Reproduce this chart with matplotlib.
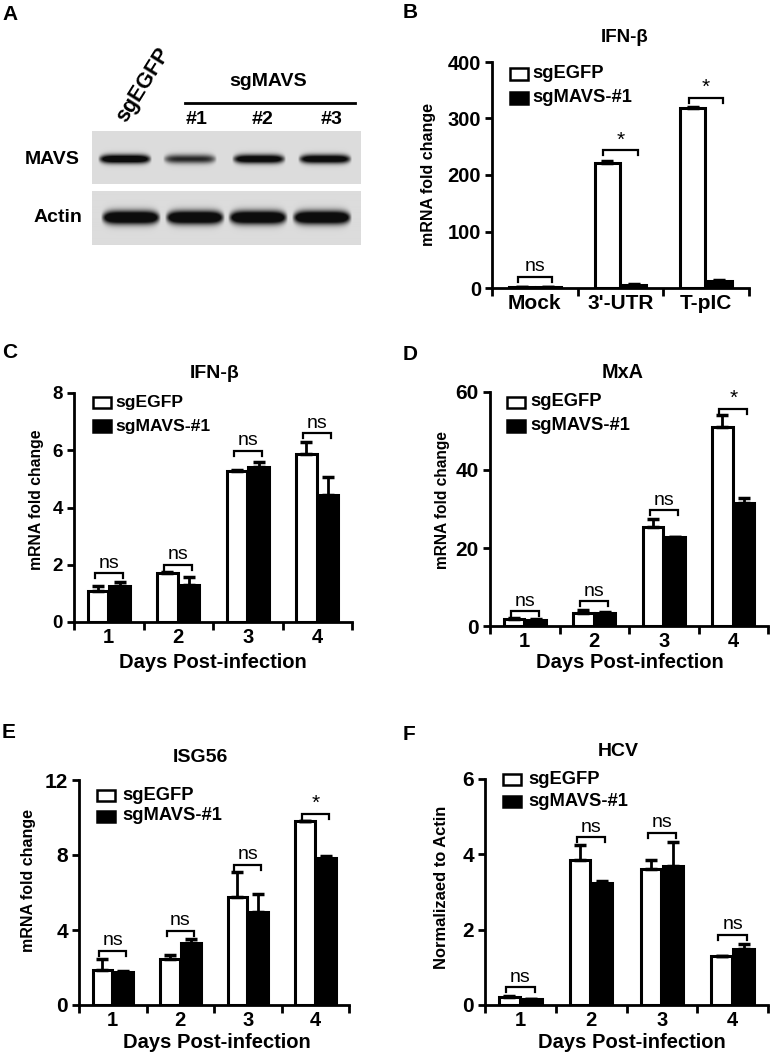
import numpy as np
import matplotlib
matplotlib.use('Agg')
import matplotlib.pyplot as plt
from matplotlib import font_manager
from matplotlib.patches import Rectangle

plt.rcParams['font.family'] = ['Liberation Sans', 'DejaVu Sans']
plt.rcParams['font.weight'] = 'bold'

installed = {f.name for f in font_manager.fontManager.ttflist}
HAS_NARROW = 'Liberation Sans Narrow' in installed
NARROW = 'Liberation Sans Narrow' if HAS_NARROW else 'Liberation Sans'
YL_SCALE = 1 / 0.82 if HAS_NARROW else 1.0

# ---- data ----
series = ['sgEGFP', 'sgMAVS-#1']
days = ['1', '2', '3', '4']

# B: IFN-beta, stimulation
b_groups = ['Mock', "3'-UTR", 'T-pIC']
b_egfp = [2, 222, 318]
b_egfp_err = [0.5, 3, 2]
b_mavs = [2, 6, 13]
b_mavs_err = [0.5, 1, 2]
b_sig = ['ns', '*', '*']
b_bracket = [20, 244, 337]

# C: IFN-beta, days post-infection
c_egfp = [1.10, 1.72, 5.29, 5.86]
c_egfp_err = [0.16, 0.03, 0.02, 0.44]
c_mavs = [1.27, 1.29, 5.41, 4.42]
c_mavs_err = [0.14, 0.27, 0.19, 0.63]
c_sig = ['ns', 'ns', 'ns', 'ns']
c_bracket = [1.7, 2.0, 5.98, 6.6]

# D: MxA
d_egfp = [1.8, 3.4, 25.3, 50.9]
d_egfp_err = [0.3, 0.7, 2.2, 3.2]
d_mavs = [1.5, 3.3, 22.8, 31.5]
d_mavs_err = [0.2, 0.2, 0.1, 1.2]
d_sig = ['ns', 'ns', 'ns', '*']
d_bracket = [3.8, 6.3, 29.7, 55.7]

# E: ISG56
e_egfp = [1.88, 2.45, 5.78, 9.80]
e_egfp_err = [0.57, 0.22, 1.32, 0.03]
e_mavs = [1.76, 3.31, 4.98, 7.84]
e_mavs_err = [0.03, 0.19, 0.92, 0.12]
e_sig = ['ns', 'ns', 'ns', '*']
e_bracket = [2.9, 3.96, 7.48, 10.2]

# F: HCV RNA
f_egfp = [0.22, 3.85, 3.60, 1.29]
f_egfp_err = [0.02, 0.40, 0.25, 0.01]
f_mavs = [0.15, 3.23, 3.70, 1.49]
f_mavs_err = [0.02, 0.07, 0.63, 0.12]
f_sig = ['ns', 'ns', 'ns', 'ns']
f_bracket = [0.47, 4.45, 4.57, 1.87]

# A: western blot band strengths (0..1)
blot_lanes = ['sgEGFP', '#1', '#2', '#3']
mavs_band = [0.85, 0.55, 0.8, 0.8]
actin_band = [1.0, 1.0, 1.0, 1.0]

W, H = 770, 1054
fig = plt.figure(figsize=(W / 100, H / 100), dpi=100)


def box(x0, y_top, x1, y_bot):
    return [x0 / W, 1 - y_bot / H, (x1 - x0) / W, (y_bot - y_top) / H]


def ftext(x, y, s, **kw):
    fig.text(x / W, 1 - y / H, s, **kw)


def ylab(x, y, s, fs):
    ftext(x, y, s, ha='center', va='center', rotation=90, fontsize=fs * YL_SCALE,
          family=NARROW, fontweight='bold')


# ---- panel A: blot ----
def blot(rect, strengths, yc, sy, lane_x, hw):
    ax = fig.add_axes(box(*rect))
    w = rect[2] - rect[0]
    h = rect[3] - rect[1]
    xx, yy = np.meshgrid(np.arange(w) + 0.5, np.arange(h) + 0.5)
    img = np.full((h, w), 0.86)
    for xc, s in zip(lane_x, strengths):
        prof = np.clip(1 - ((xx - (xc - rect[0])) / hw) ** 6, 0, 1)
        img -= 1.3 * s * prof * np.exp(-0.5 * ((yy - yc) / (sy * (0.6 + 0.4 * prof))) ** 2)
    ax.imshow(np.clip(img, 0.05, 1), cmap='gray', vmin=0, vmax=1, aspect='auto',
              interpolation='bilinear')
    ax.set_axis_off()


blot((92, 131, 361, 184), mavs_band, 28, 3.2, [125, 190, 259, 325], 27)
blot((92, 191, 361, 245), actin_band, 27, 4.5, [131, 195, 258, 322], 30)

ftext(80, 159, 'MAVS', ha='right', va='center', fontsize=14)
ftext(82, 218, 'Actin', ha='right', va='center', fontsize=14)
ftext(143, 85, blot_lanes[0], ha='center', va='center', fontsize=15.5, rotation=58)
ftext(268, 82, 'sgMAVS', ha='center', va='center', fontsize=14)
for lx, lab in zip([197, 262, 332], blot_lanes[1:]):
    ftext(lx, 119, lab, ha='center', va='center', fontsize=14)
fig.add_artist(plt.Line2D([185 / W, 355 / W], [1 - 103 / H, 1 - 103 / H],
                          color='black', lw=2))

# ---- bar panels ----
BW = 0.29
OFF = 0.155


def bar_panel(rect, groups, egfp, egfp_err, mavs, mavs_err, sig, bracket,
              ymax, yticks, xmax, xfs, yfs):
    ax = fig.add_axes(box(*rect))
    n = len(groups)
    x = np.arange(1, n + 1)
    ax.bar(x - OFF, egfp, BW, color='white', edgecolor='black', linewidth=2.2, zorder=2)
    ax.bar(x + OFF, mavs, BW, color='black', edgecolor='black', linewidth=2.2, zorder=2)
    ax.errorbar(x - OFF, egfp, yerr=[np.zeros(n), egfp_err], fmt='none', ecolor='black',
                elinewidth=2, capsize=4, capthick=2.5, zorder=3)
    ax.errorbar(x + OFF, mavs, yerr=[np.zeros(n), mavs_err], fmt='none', ecolor='black',
                elinewidth=2, capsize=4, capthick=2.5, zorder=3)
    axh = rect[3] - rect[1]
    d = 5 / axh * ymax
    for xi, s, yb in zip(x, sig, bracket):
        ax.plot([xi - 0.2, xi - 0.2, xi + 0.2, xi + 0.2], [yb - d, yb, yb, yb - d],
                color='black', lw=1.6, solid_joinstyle='miter', zorder=3)
        if s == 'ns':
            ax.text(xi, yb + 0.3 * d, s, ha='center', va='bottom', fontsize=14,
                    family=NARROW, fontweight='normal')
        else:
            ax.text(xi, yb + 0.1 * d, s, ha='center', va='bottom', fontsize=15,
                    fontweight='normal')
    ax.set_xlim(0.5, xmax)
    ax.set_ylim(0, ymax)
    ax.set_yticks(yticks)
    ax.set_yticklabels([str(t) for t in yticks], fontsize=yfs, fontweight='bold')
    ax.set_xticks(list(np.arange(0.5, n + 0.6, 1.0)))
    ax.set_xticklabels([])
    ax.set_xticks(x, minor=True)
    ax.set_xticklabels(groups, minor=True, fontsize=xfs, fontweight='bold')
    ax.tick_params(axis='x', which='major', direction='out', length=6, width=2)
    ax.tick_params(axis='x', which='minor', length=0, pad=4)
    ax.tick_params(axis='y', direction='out', length=5, width=2, pad=3)
    for sp in ['top', 'right']:
        ax.spines[sp].set_visible(False)
    for sp in ['left', 'bottom']:
        ax.spines[sp].set_linewidth(2)
    return ax


def legend(x, y1, y2, x_text, fs=13.2):
    fig.add_artist(Rectangle(((x) / W, 1 - (y1 + 5.5) / H), 18 / W, 11 / H,
                             facecolor='white', edgecolor='black', lw=1.8))
    fig.add_artist(Rectangle(((x) / W, 1 - (y2 + 5.5) / H), 18 / W, 11 / H,
                             facecolor='black', edgecolor='black', lw=1.8))
    ftext(x_text, y1, series[0], ha='left', va='center', fontsize=fs)
    ftext(x_text, y2, series[1], ha='left', va='center', fontsize=fs)


# B
bar_panel((492, 62, 749, 288), b_groups, b_egfp, b_egfp_err, b_mavs, b_mavs_err,
          b_sig, b_bracket, 400, [0, 100, 200, 300, 400], 3.5, 15, 14.5)
legend(510, 74, 98, 532)
ftext(625, 37, 'IFN-β', ha='center', va='center', fontsize=13.5)
ylab(428, 175, 'mRNA fold change', 11.5)

# C
bar_panel((74, 393, 352, 622), days, c_egfp, c_egfp_err, c_mavs, c_mavs_err,
          c_sig, c_bracket, 8, [0, 2, 4, 6, 8], 4.5, 14.5, 13.5)
legend(93, 402, 426, 115, 12.6)
ftext(215, 373, 'IFN-β', ha='center', va='center', fontsize=14)
ylab(37, 500, 'mRNA fold change', 11.3)
ftext(213, 663, 'Days Post-infection', ha='center', va='center', fontsize=14.5)

# D
bar_panel((490, 392, 768, 626), days, d_egfp, d_egfp_err, d_mavs, d_mavs_err,
          d_sig, d_bracket, 60, [0, 20, 40, 60], 4.5, 14.5, 15)
legend(507, 402, 426, 530)
ftext(623, 372, 'MxA', ha='center', va='center', fontsize=14.3)
ylab(443, 500, 'mRNA fold change', 11.2)
ftext(630, 663, 'Days Post-infection', ha='center', va='center', fontsize=14.5)

# E
bar_panel((79, 780, 349, 1005), days, e_egfp, e_egfp_err, e_mavs, e_mavs_err,
          e_sig, e_bracket, 12, [0, 4, 8, 12], 4.45, 14.5, 15)
legend(97, 795, 816, 122)
ftext(200, 757, 'ISG56', ha='center', va='center', fontsize=14)
ylab(29, 880, 'mRNA fold change', 11.5)
ftext(217, 1042, 'Days Post-infection', ha='center', va='center', fontsize=14.5)

# F
bar_panel((485, 779, 768, 1005), days, f_egfp, f_egfp_err, f_mavs, f_mavs_err,
          f_sig, f_bracket, 6, [0, 2, 4, 6], 4.5, 14.5, 15)
legend(503, 779, 801, 528)
ftext(618, 752, 'HCV', ha='center', va='center', fontsize=14)
ylab(441, 887, 'Normalizaed to Actin', 11.9)
ftext(632, 1043, 'Days Post-infection', ha='center', va='center', fontsize=14.5)

# panel letters
for (lx, ly, lab) in [(2, 15, 'A'), (403, 13, 'B'), (2, 353, 'C'), (403, 355, 'D'),
                      (2, 733, 'E'), (403, 735, 'F')]:
    ftext(lx, ly, lab, ha='left', va='center', fontsize=15)

fig.savefig('out.png', dpi=100)
